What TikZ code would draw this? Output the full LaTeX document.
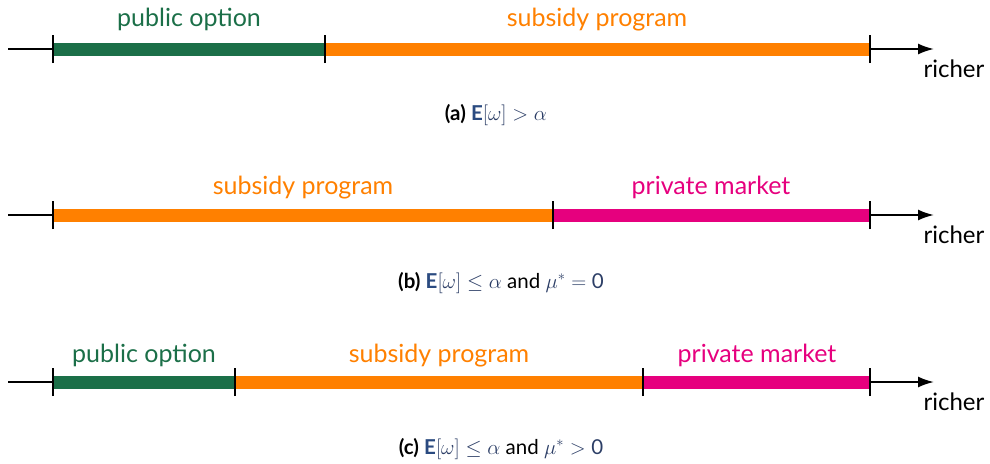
\documentclass[tikz,border=0pt]{standalone}
\usepackage{fontspec}
\setmainfont{Lato}
\usetikzlibrary{arrows.meta}
\definecolor{pubgreen}{HTML}{1B6F48}
\definecolor{suborange}{HTML}{FF8000}
\definecolor{privmag}{HTML}{E6007E}
\definecolor{mathnavy}{HTML}{2C3E66}
\definecolor{ebold}{HTML}{2A4A80}
\newcommand{\Eop}{{\color{ebold}\mbox{\bfseries E}}}
\begin{document}
\begin{tikzpicture}[x=1pt,y=-1pt,
  axisline/.style={line width=2pt,black,-{Latex[length=16pt,width=11pt]}},
  barseg/.style={line width=13pt},
  tickmark/.style={line width=2pt,black},
  seglabel/.style={anchor=base,inner sep=0pt,font=\fontsize{25}{30}\selectfont},
  richerlabel/.style={anchor=base,inner sep=0pt,font=\fontsize{24}{28}\selectfont},
  captionlabel/.style={anchor=base,inner sep=0pt,font=\fontsize{20.5}{24}\selectfont}]
\useasboundingbox (0,0) rectangle (990,463);

% ---------- row (a) ----------
\coordinate (a0) at (8,49);
\coordinate (a1) at (53,49);
\coordinate (a2) at (325,49);
\coordinate (a3) at (870,49);
\coordinate (aE) at (934,49);
\draw[axisline] (a0) -- (aE);
\draw[barseg,pubgreen] (a1) -- (a2);
\draw[barseg,suborange] (a2) -- (a3);
\foreach \p in {a1,a2,a3} \draw[tickmark] ([yshift=-14pt]\p) -- ([yshift=14pt]\p);
\node[seglabel,text=pubgreen] (apub) at (189,27) {public option};
\node[seglabel,text=suborange] (asub) at (597,27) {subsidy program};
\node[richerlabel] (arich) at (954,77) {richer};
\node[captionlabel] (acap) at (496,120) {\textbf{(a)} {\color{mathnavy}$\Eop[\omega] > \alpha$}};

% ---------- row (b) ----------
\coordinate (b0) at (8,215);
\coordinate (b1) at (53,215);
\coordinate (b2) at (553,215);
\coordinate (b3) at (870,215);
\coordinate (bE) at (934,215);
\draw[axisline] (b0) -- (bE);
\draw[barseg,suborange] (b1) -- (b2);
\draw[barseg,privmag] (b2) -- (b3);
\foreach \p in {b1,b2,b3} \draw[tickmark] ([yshift=-14pt]\p) -- ([yshift=14pt]\p);
\node[seglabel,text=suborange] (bsub) at (303,194) {subsidy program};
\node[seglabel,text=privmag] (bpriv) at (711,194) {private market};
\node[richerlabel] (brich) at (954,243) {richer};
\node[captionlabel] (bcap) at (501,288) {\textbf{(b)} {\color{mathnavy}$\Eop[\omega] \le \alpha$} and {\color{mathnavy}$\mu^* = \mbox{0}$}};

% ---------- row (c) ----------
\coordinate (c0) at (8,382);
\coordinate (c1) at (53,382);
\coordinate (c2) at (235,382);
\coordinate (c3) at (643,382);
\coordinate (c4) at (870,382);
\coordinate (cE) at (934,382);
\draw[axisline] (c0) -- (cE);
\draw[barseg,pubgreen] (c1) -- (c2);
\draw[barseg,suborange] (c2) -- (c3);
\draw[barseg,privmag] (c3) -- (c4);
\foreach \p in {c1,c2,c3,c4} \draw[tickmark] ([yshift=-14pt]\p) -- ([yshift=14pt]\p);
\node[seglabel,text=pubgreen] (cpub) at (144,362) {public option};
\node[seglabel,text=suborange] (csub) at (439,362) {subsidy program};
\node[seglabel,text=privmag] (cpriv) at (757,362) {private market};
\node[richerlabel] (crich) at (954,410) {richer};
\node[captionlabel] (ccap) at (501,454) {\textbf{(c)} {\color{mathnavy}$\Eop[\omega] \le \alpha$} and {\color{mathnavy}$\mu^* > \mbox{0}$}};
\end{tikzpicture}
\end{document}
